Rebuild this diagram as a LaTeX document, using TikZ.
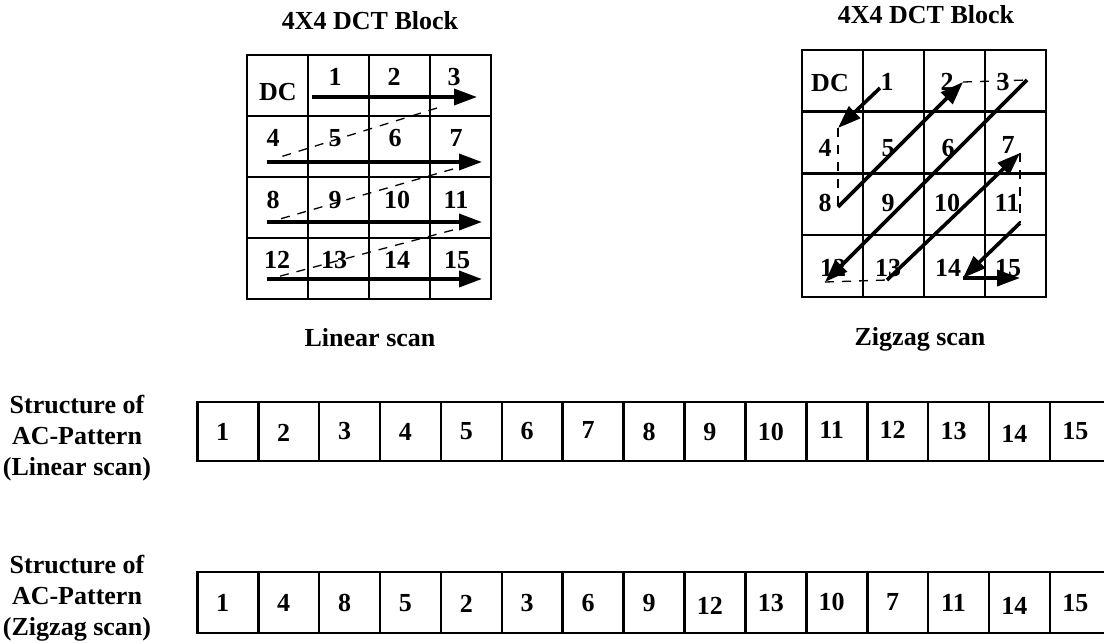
\documentclass[tikz,border=0pt]{standalone}
\usepackage{fontspec}
\setmainfont{Liberation Serif}
\usetikzlibrary{arrows.meta}

\begin{document}
\begin{tikzpicture}[x=.5pt,y=-.5pt,font=\bfseries\fontsize{13}{15.5}\selectfont,
  cellline/.style={draw,line width=1.3pt},
  num/.style={inner sep=0pt},
  scan/.style={line width=1.8pt,-{Triangle[length=11.5pt,width=8pt]}},
  hop/.style={line width=.65pt,dash pattern=on 4.5pt off 4pt}]
  \useasboundingbox (0,0) rectangle (1104,643);
  % the two 4x4 blocks
  \foreach \r in {0,...,3}{
    \foreach \c in {0,...,3}{
      \path[cellline] (247+61*\c,55+61*\r) rectangle +(61,61);
      \path[cellline] (802+61*\c,50+61.7*\r) rectangle +(61,61.7);
    }
  }
  \node (t1) at (370,21) {4X4 DCT Block};
  \node (t2) at (926,15) {4X4 DCT Block};
  \node (cap1) at (370,338) {Linear scan};
  \node (cap2) at (920,339) {Zigzag scan};
  \foreach \n/\x/\y in {DC/278/92,1/335/77,2/394/77,3/454/77,
    4/273/138,5/335/138,6/395/138,7/456/138,
    8/273/200,9/335/200,10/397/200,11/456/200,
    12/277/260,13/334/260,14/397/260,15/457/260}
    \node[num] (l\n) at (\x,\y) {\n};
  \foreach \n/\x/\y in {DC/830/83,1/887/82,2/947/82,3/1003/82,
    4/825/148,5/888/148,6/948/148,7/1008/145,
    8/825/203,9/888/203,10/947/203,11/1007/203,
    12/833/268,13/888/268,14/948/268,15/1008/268}
    \node[num] (z\n) at (\x,\y) {\n};
  % linear scan
  \coordinate (a0) at (312,97);   \coordinate (b0) at (477,97);
  \coordinate (a1) at (267,162);  \coordinate (b1) at (482,162);
  \coordinate (a2) at (267,222);  \coordinate (b2) at (482,222);
  \coordinate (a3) at (267,279);  \coordinate (b3) at (482,279);
  \coordinate (h0) at (437,108);  \coordinate (g0) at (277,158);
  \coordinate (h1) at (453,169);  \coordinate (g1) at (273,221);
  \coordinate (h2) at (453,230);  \coordinate (g2) at (273,278);
  \draw[scan] (a0) -- (b0);
  \draw[scan] (a1) -- (b1);
  \draw[scan] (a2) -- (b2);
  \draw[scan] (a3) -- (b3);
  \draw[hop] (h0) -- (g0);
  \draw[hop] (h1) -- (g1);
  \draw[hop] (h2) -- (g2);
  % zigzag scan
  \coordinate (q0) at (880,88);
  \coordinate (q1) at (838,128);
  \coordinate (q2) at (838,207);
  \coordinate (q3) at (963,82);
  \coordinate (q4) at (1027,80);
  \coordinate (q5) at (825,282);
  \coordinate (q6) at (887,280);
  \coordinate (q7) at (1020,153);
  \coordinate (q8) at (1020,223);
  \coordinate (q9) at (963,278);
  \coordinate (q10) at (1020,278);
  \draw[scan] (q0) -- (q1);
  \draw[hop] (q1) -- (q2);
  \draw[scan] (q2) -- (q3);
  \draw[hop] (q3) -- (q4);
  \draw[scan] (q4) -- (q5);
  \draw[hop] (q5) -- (q6);
  \draw[scan] (q6) -- (q7);
  \draw[hop] (q7) -- (q8);
  \draw[scan] (q8) -- (q9);
  \draw[scan] (q9) -- (q10);
  % AC-pattern strips
  \node[align=center] (s1) at (77,438) {Structure of\\AC-Pattern\\(Linear scan)};
  \node[align=center] (s2) at (77,598) {Structure of\\AC-Pattern\\(Zigzag scan)};
  \foreach \n/\dy [count=\i from 0] in {1/0,2/1,3/0,4/0,5/0,6/0,7/-1.5,8/0,9/1,
      10/0,11/-1.5,12/-1.5,13/0,14/2,15/0}{
    \path[cellline] (197.3+60.9*\i,402) rectangle +(60.9,59);
    \node[num] (sl\n) at (222.7+60.9*\i,431.5+\dy) {\n};
  }
  \foreach \n/\dy [count=\i from 0] in {1/0,4/0,8/0,5/0,2/1,3/0,6/0,9/0,12/3,
      13/0,10/-1.5,7/-1.5,11/0,14/3,15/0}{
    \path[cellline] (197.3+60.9*\i,572) rectangle +(60.9,61);
    \node[num] (sz\n) at (222.7+60.9*\i,603+\dy) {\n};
  }
\end{tikzpicture}
\end{document}
